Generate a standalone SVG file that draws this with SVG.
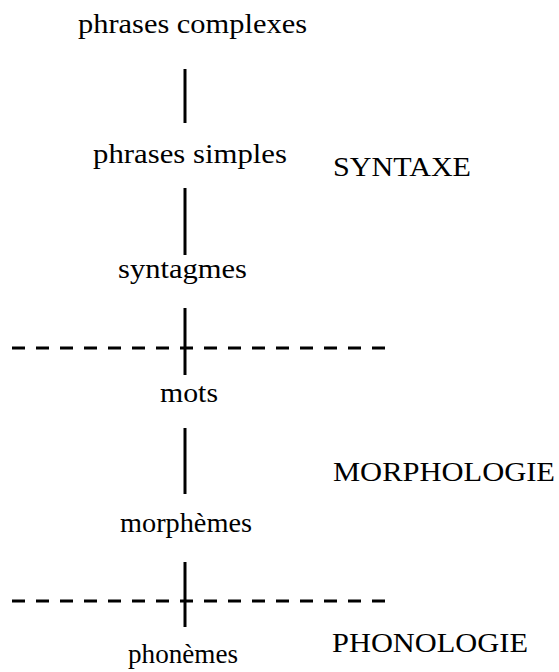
<svg xmlns="http://www.w3.org/2000/svg" width="559" height="672" viewBox="0 0 559 672">
<style>
text{font-family:"Liberation Serif","DejaVu Serif",serif;font-size:28px;fill:#000}
.v{stroke:#000;stroke-width:3;fill:none}
.d{stroke:#000;stroke-width:3;stroke-dasharray:13 11;fill:none}
</style>
<rect width="559" height="672" fill="#fff"/>
<g id="n1"><text x="78" y="33" textLength="229" lengthAdjust="spacingAndGlyphs">phrases complexes</text></g>
<g id="n2"><text x="93" y="163" textLength="194" lengthAdjust="spacingAndGlyphs">phrases simples</text></g>
<g id="n3"><text x="118" y="278" textLength="129" lengthAdjust="spacingAndGlyphs">syntagmes</text></g>
<g id="n4"><text x="160" y="402" textLength="58" lengthAdjust="spacingAndGlyphs">mots</text></g>
<g id="n5"><text x="120" y="532" textLength="132" lengthAdjust="spacingAndGlyphs">morphèmes</text></g>
<g id="n6"><text x="128" y="663" textLength="110" lengthAdjust="spacingAndGlyphs">phonèmes</text></g>
<g id="l1"><text x="333" y="176" textLength="138" lengthAdjust="spacingAndGlyphs">SYNTAXE</text></g>
<g id="l2"><text x="333" y="481" textLength="222" lengthAdjust="spacingAndGlyphs">MORPHOLOGIE</text></g>
<g id="l3"><text x="332" y="652" textLength="196" lengthAdjust="spacingAndGlyphs">PHONOLOGIE</text></g>
<g id="connectors">
<line class="v" x1="185" y1="69" x2="185" y2="123"/>
<line class="v" x1="185" y1="188" x2="185" y2="255"/>
<line class="v" x1="185" y1="308" x2="185" y2="375"/>
<line class="v" x1="185" y1="428" x2="185" y2="494"/>
<line class="v" x1="185" y1="562" x2="185" y2="627"/>
<line class="d" x1="12" y1="348" x2="386" y2="348"/>
<line class="d" x1="12" y1="601" x2="386" y2="601"/>
</g>
</svg>
